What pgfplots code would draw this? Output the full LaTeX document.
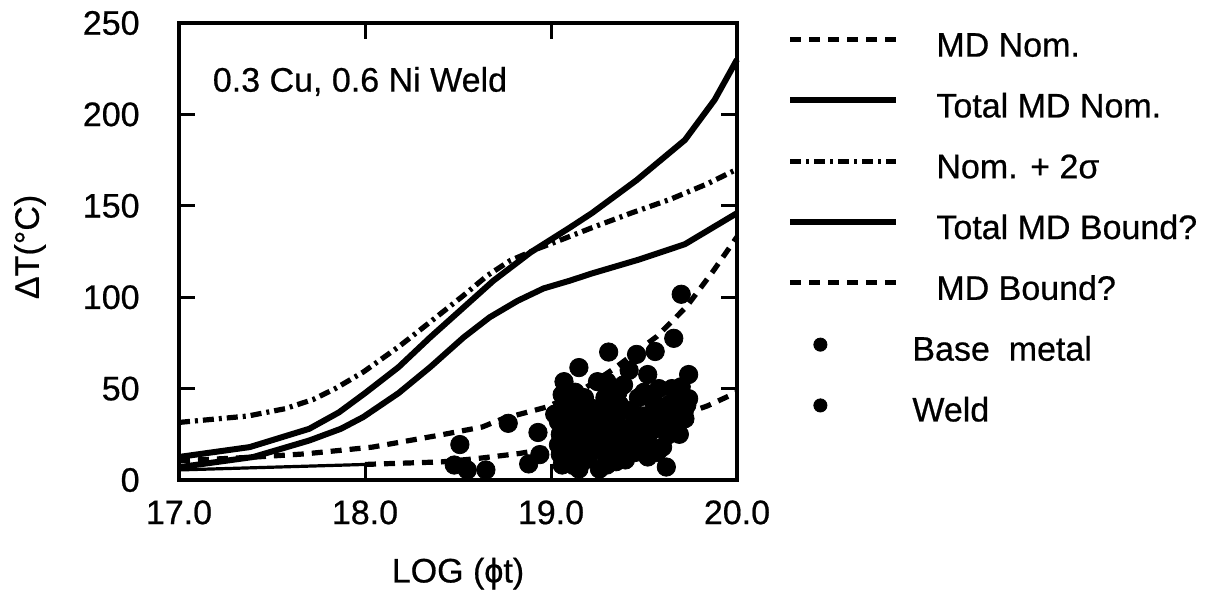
\documentclass[border=0pt]{standalone}
\usepackage{pgfplots}
\pgfplotsset{compat=1.18}
\usepackage{fontspec}
\setmainfont{Liberation Sans}[FakeBold=0.6]

\newcommand{\chartfont}{\fontsize{17bp}{20bp}\selectfont}

\pgfplotsset{
    linelegend/.style={legend image code/.code={\draw[##1] (0bp,4bp) -- (53bp,4bp);}},
    dotlegend/.style={legend image code/.code={\draw[##1, mark size=3.3bp] plot coordinates {(15bp,3.5bp)};}},
}

\begin{document}
\begin{tikzpicture}
\useasboundingbox (-89.5bp,-56bp) rectangle (514.5bp,240bp);
\begin{axis}[
    at={(0,0)}, anchor=south west,
    scale only axis,
    width=279bp, height=228.5bp,
    xmin=17, xmax=20,
    ymin=0, ymax=250,
    xtick={17,18,19,20},
    ytick={0,50,...,250},
    /pgf/number format/assume math mode=true,
    xticklabel={\pgfmathprintnumber[fixed,fixed zerofill,precision=1]{\tick}},
    tick label style={font=\chartfont, inner sep=0pt},
    xticklabel shift=10bp,
    yticklabel shift=19.5bp,
    tick align=inside,
    major tick length=8bp,
    every tick/.style={black, line width=1.5bp},
    axis line style={line width=2bp},
    xlabel={LOG (ϕt)},
    ylabel={ΔT(°C)},
    label style={font=\chartfont},
    xlabel style={at={(axis description cs:0.5,-0.205)}, anchor=center},
    ylabel style={at={(axis description cs:-0.267,0.51)}, anchor=center},
    linelegend,
    legend cell align=left,
    legend style={
        at={(axis description cs:1.0896,0.982)}, anchor=north west,
        draw=none, fill=none, inner sep=0pt,
        font=\chartfont,
        nodes={inner sep=0pt, text height=12.5bp, text depth=3.5bp},
        column sep=18.5bp, row sep=14.4bp,
    },
    clip=false,
]
% MD Nom.
\addplot[black, line width=2.6bp, dash pattern=on 5.5bp off 4bp] coordinates {
    (17,10.5) (17.4,12.5) (17.68,14.3) (18.04,18) (18.41,24.7) (18.63,29)
    (18.74,33.5) (18.98,40) (19.15,48) (19.34,61) (19.57,78.6) (19.73,95)
    (19.87,114) (20,133)
};
\addlegendentry{MD Nom.}
% Total MD Nom.
\addplot[black, line width=3bp] coordinates {
    (17,12.6) (17.38,18) (17.70,28) (17.86,37) (18.0,47.5) (18.18,61.7)
    (18.35,78) (18.53,94.4) (18.69,109) (18.89,124.5) (19.10,138) (19.22,146)
    (19.46,164) (19.72,186) (19.88,208) (20,230)
};
\addlegendentry{Total MD Nom.}
% Nom. + 2 sigma
\addplot[black, line width=2.6bp, dash pattern=on 5.5bp off 2.5bp on 1.5bp off 2.5bp] coordinates {
    (17,31.5) (17.37,35) (17.57,39) (17.72,44) (17.84,50) (17.99,59)
    (18.18,72.8) (18.35,86.4) (18.53,101) (18.66,112) (18.78,120) (18.93,126.6)
    (19.07,132) (19.22,138) (19.43,146) (19.64,153.5) (19.84,162) (20,170)
};
\addlegendentry{Nom. + 2σ}
% Total MD Bound?
\addplot[black, line width=3bp] coordinates {
    (17,7) (17.40,12.6) (17.70,21.6) (17.87,28) (17.99,34.4) (18.18,47.5)
    (18.35,61.7) (18.53,78) (18.67,89) (18.82,98) (18.96,104.8) (19.10,109)
    (19.22,113) (19.47,120.5) (19.72,129) (20,146)
};
\addlegendentry{Total MD Bound?}
% MD Bound?
\addplot[black, line width=2.6bp, dash pattern=on 5.5bp off 4bp] coordinates {
    (18,8.5) (18.08,8.8) (18.41,9.9) (18.60,11.7) (18.83,14.5) (19.0,17.5)
    (19.3,24) (19.6,32) (19.84,40.5) (20,48)
};
\addlegendentry{MD Bound?}
\addplot[black, line width=1.6bp, forget plot] coordinates {
    (17,5.5) (18,8.5)
};
% Base metal
\addplot[only marks, mark=*, mark size=4.6bp, black, dotlegend] coordinates {
    (18.51,19.4) (18.48,8.2) (18.55,5.5) (18.65,5.5) (18.77,31) (18.93,26)
    (18.94,13.9) (18.88,8.8) (19.15,61.5) (19.31,70) (19.07,53.8) (19.06,46.7)
    (19.08,42.9) (19.04,31.9) (19.04,19.2) (19.06,8.2) (19.15,6) (19.26,6)
    (19.30,11.5) (19.25,53.8) (19.23,39) (19.21,28) (19.15,20.9) (19.33,46.7)
    (19.39,52) (19.37,37.4) (19.33,24.7) (19.41,19.2) (19.46,68.7) (19.44,30)
    (19.02,36) (19.05,14) (19.09,20) (19.11,42) (19.14,30) (19.16,38)
    (19.19,16) (19.24,24) (19.26,35) (19.29,45) (19.31,20) (19.34,38)
};
\addlegendentry{\hspace*{-12bp}Base\ \ metal}
% Weld
\addplot[only marks, mark=*, mark size=4.6bp, black, dotlegend] coordinates {
    (19.70,101.6) (19.66,77.5) (19.56,70.3) (19.52,57.7) (19.74,57.7) (19.70,51)
    (19.30,53.8) (19.55,42.9) (19.63,41) (19.73,41) (19.72,33.5) (19.60,31.9)
    (19.46,33.5) (19.37,41) (19.30,31.9) (19.63,24.7) (19.52,22.5) (19.41,22.5)
    (19.33,19.2) (19.30,8.2) (19.52,12.6) (19.62,7.1) (19.37,15.4) (19.74,44.5)
    (19.10,15) (19.12,35) (19.18,45) (19.20,12) (19.27,28) (19.35,10)
    (19.47,45) (19.50,35) (19.56,28) (19.58,50) (19.05,25) (19.13,48)
    (19.42,60) (19.60,18) (19.67,30) (19.68,45) (19.10,27) (19.22,20)
    (19.28,40) (19.45,15) (19.48,27) (19.12,8) (19.20,33) (19.38,28)
    (19.55,37) (19.65,50) (19.08,37) (19.18,25) (19.25,17) (19.35,33)
    (19.36,48) (19.40,27) (19.43,38) (19.47,20) (19.50,48) (19.53,30)
    (19.57,15) (19.62,35) (19.66,40) (19.69,25) (19.40,11) (19.17,10)
};
\addlegendentry{\hspace*{-12bp}Weld}
\node[anchor=west, font=\chartfont, inner sep=0pt] at (axis cs:17.18,218) {0.3 Cu,\ 0.6 Ni Weld};
\end{axis}
\end{tikzpicture}
\end{document}
